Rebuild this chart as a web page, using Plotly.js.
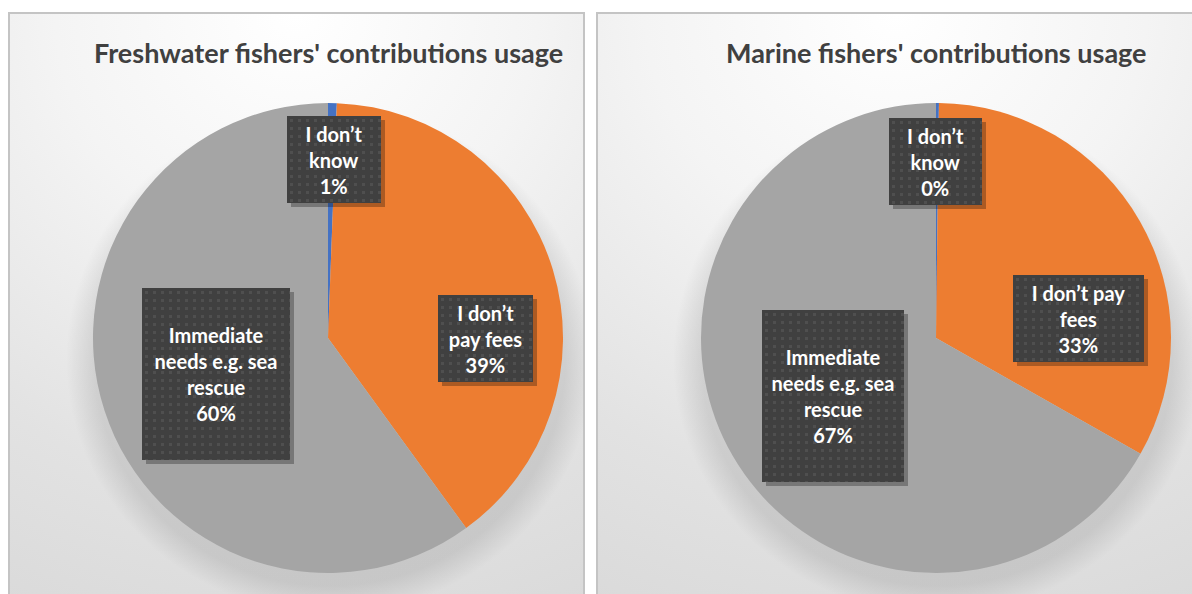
<!DOCTYPE html>
<html>
<head>
<meta charset="utf-8">
<script src="https://cdn.plot.ly/plotly-3.0.1.min.js"></script>
<style>
  html, body { margin: 0; padding: 0; background: #ffffff; width: 1192px; height: 594px; overflow: hidden; }
  .panel { position: absolute; box-sizing: border-box; border: 2px solid #c4c4c4; border-bottom: none;
    background:
      radial-gradient(ellipse 262px 252px at var(--cx) 346px, rgba(0,0,0,0.13) 0px, rgba(0,0,0,0.10) 235px, rgba(0,0,0,0) 264px),
      radial-gradient(ellipse 120% 110% at 50% 0%, #ffffff 0%, #f4f4f4 35%, #e2e2e2 75%, #dadada 100%);
  }
  #p1 { left: 8px; top: 12px; width: 577px; height: 590px; --cx: 320px; }
  #p2 { left: 596px; top: 12px; width: 600px; height: 590px; --cx: 339px; }
  #chart { position: absolute; left: 0; top: 0; width: 1192px; height: 594px; }
</style>
</head>
<body>
<div class="panel" id="p1"></div>
<div class="panel" id="p2"></div>
<div id="chart"></div>
<script>
// ---- data ----
const categories = ["I don’t know", "I don’t pay fees", "Immediate needs e.g. sea rescue"];
const freshwaterValues = [0.6, 39.4, 60.0];
const marineValues = [0.2, 33.0, 66.8];
const freshwaterLabelLines = ["I don’t<br>know", "I don’t<br>pay fees", "Immediate<br>needs e.g. sea<br>rescue"];
const marineLabelLines = ["I don’t<br>know", "I don’t pay<br>fees", "Immediate<br>needs e.g. sea<br>rescue"];
const titles = ["Freshwater fishers' contributions usage", "Marine fishers' contributions usage"];
const sliceColors = ["#4472C4", "#ED7D31", "#A5A5A5"];

// ---- layout helpers (positions in pixels) ----
const W = 1192, H = 594;
const px = x => x / W;
const py = y => 1 - y / H;

function pieTrace(values, x0, x1, name) {
  return {
    type: "pie", name: name, labels: categories, values: values, sort: false,
    direction: "clockwise", rotation: 0,
    marker: { colors: sliceColors, line: { width: 0 } },
    textinfo: "none", hoverinfo: "label+percent",
    domain: { x: [px(x0), px(x1)], y: [py(573), py(103)] },
    showlegend: false
  };
}

const data = [
  pieTrace(freshwaterValues, 93, 563, "Freshwater"),
  pieTrace(marineValues, 701, 1171, "Marine")
];

function pct(values, i) {
  const s = values.reduce((a, b) => a + b, 0);
  return Math.round(values[i] / s * 100) + "%";
}

// label boxes: [left, top, right, bottom] in px
const boxes1 = [[287, 116, 381, 203], [438, 295, 533, 382], [142, 288, 290, 460]];
const boxes2 = [[889, 118, 982, 205], [1013, 275, 1144, 362], [762, 310, 904, 482]];

const labelFont = { family: "Lato, 'Open Sans', sans-serif", size: 20, color: "#ffffff", weight: "bold" };
const annotations = [];
function addBoxes(boxes, lines, values) {
  boxes.forEach((b, i) => {
    annotations.push({
      xref: "paper", yref: "paper", x: px(b[0] + 4), y: py(b[1] + 4),
      xanchor: "left", yanchor: "top", width: b[2] - b[0], height: b[3] - b[1],
      text: " ", showarrow: false, bgcolor: "rgba(0,0,0,0.28)", borderpad: 0, borderwidth: 0
    });
  });
  boxes.forEach((b, i) => {
    annotations.push({
      xref: "paper", yref: "paper", x: px(b[0]), y: py(b[1]),
      xanchor: "left", yanchor: "top", width: b[2] - b[0], height: b[3] - b[1],
      align: "center", valign: "middle",
      text: lines[i] + "<br>" + pct(values, i), showarrow: false,
      bgcolor: "rgb(64,64,64)", borderpad: 0, borderwidth: 0,
      font: labelFont
    });
  });
}
addBoxes(boxes1, freshwaterLabelLines, freshwaterValues);
addBoxes(boxes2, marineLabelLines, marineValues);

[[titles[0], 328], [titles[1], 936]].forEach(t => {
  annotations.push({
    xref: "paper", yref: "paper", x: px(t[1]), y: py(53),
    xanchor: "center", yanchor: "middle", text: "<b>" + t[0] + "</b>", showarrow: false,
    font: { family: "Lato, 'Open Sans', sans-serif", size: 27, color: "#404040" }
  });
});

const layout = {
  width: W, height: H,
  margin: { l: 0, r: 0, t: 0, b: 0 },
  paper_bgcolor: "rgba(0,0,0,0)", plot_bgcolor: "rgba(0,0,0,0)",
  annotations: annotations,
  showlegend: false
};

Plotly.newPlot("chart", data, layout, { displayModeBar: false, staticPlot: true }).then(gd => {
  const svg = gd.querySelector("svg.main-svg");
  const ns = "http://www.w3.org/2000/svg";
  let defs = svg.querySelector("defs");
  if (!defs) { defs = document.createElementNS(ns, "defs"); svg.insertBefore(defs, svg.firstChild); }
  const pat = document.createElementNS(ns, "pattern");
  pat.setAttribute("id", "dots"); pat.setAttribute("patternUnits", "userSpaceOnUse");
  pat.setAttribute("width", "8"); pat.setAttribute("height", "8");
  const base = document.createElementNS(ns, "rect");
  base.setAttribute("width", "8"); base.setAttribute("height", "8"); base.setAttribute("fill", "#404040");
  const dot = document.createElementNS(ns, "rect");
  dot.setAttribute("x", "3"); dot.setAttribute("y", "3"); dot.setAttribute("width", "3"); dot.setAttribute("height", "3");
  dot.setAttribute("fill", "#4f4f4f");
  pat.appendChild(base); pat.appendChild(dot); defs.appendChild(pat);
  gd.querySelectorAll(".annotation rect.bg").forEach(r => {
    const st = r.getAttribute("style") || "";
    if (st.indexOf("rgb(64, 64, 64)") >= 0) { r.style.fill = "url(#dots)"; }
  });
});
</script>
</body>
</html>
